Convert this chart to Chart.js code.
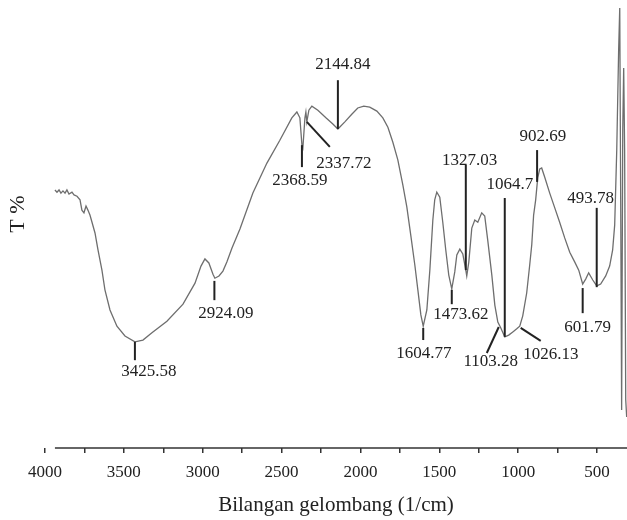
<!DOCTYPE html>
<html>
<head>
<meta charset="UTF-8">
<title>Spektrum FTIR</title>
<script src="https://cdn.jsdelivr.net/npm/chart.js"></script>
<style>
  body, html { margin: 0; padding: 0; background: #fff; }
  .wrap { width: 627px; height: 520px; position: relative; }
</style>
</head>
<body>
<div class="wrap"><canvas id="ftir"></canvas></div>
<script>
// wavenumber (1/cm) and transmittance (T %)
const bilangan = [3937, 3924, 3911, 3899, 3886, 3873, 3861, 3848, 3829, 3816, 3797, 3778, 3766, 3753, 3740, 3728,
  3715, 3702, 3683, 3664, 3639, 3620, 3588, 3544, 3493, 3430, 3379, 3322, 3227, 3125, 3049, 3011,
  2986, 2961, 2935, 2923, 2897, 2872, 2847, 2815, 2764, 2682, 2593, 2511, 2435, 2403, 2384, 2371,
  2365, 2352, 2346, 2340, 2327, 2308, 2270, 2219, 2175, 2143, 2099, 2055, 2017, 1979, 1941, 1896,
  1858, 1826, 1795, 1763, 1731, 1706, 1681, 1655, 1636, 1617, 1602, 1579, 1560, 1541, 1529, 1516,
  1497, 1478, 1459, 1440, 1421, 1402, 1389, 1370, 1351, 1332, 1326, 1313, 1294, 1275, 1256, 1231,
  1212, 1193, 1167, 1148, 1129, 1110, 1085, 1060, 1034, 1009, 990, 971, 946, 927, 914, 902,
  889, 876, 863, 851, 832, 800, 768, 737, 705, 673, 641, 616, 591, 572, 553, 527,
  502, 477, 445, 420, 401, 388, 375, 363, 356, 350, 344, 337, 331, 325, 318, 312];
const transmitansi = [57.6, 57.1, 57.6, 56.9, 57.4, 56.9, 57.6, 56.7, 57.1, 56.5, 56.2, 55.4, 53.1, 52.5, 54.0, 53.1,
  52.0, 50.4, 48.0, 44.2, 39.7, 35.3, 30.8, 27.2, 25.0, 23.7, 24.1, 25.7, 28.3, 32.1, 36.8, 40.6,
  42.2, 41.3, 38.8, 37.9, 38.4, 39.5, 41.5, 44.6, 48.9, 56.9, 63.6, 68.7, 73.7, 75.0, 73.7, 67.6,
  67.0, 73.7, 75.0, 72.8, 75.4, 76.3, 75.4, 73.7, 72.3, 71.2, 72.8, 74.5, 75.9, 76.3, 76.1, 75.2,
  73.7, 71.6, 68.3, 64.3, 58.7, 53.8, 47.5, 40.8, 35.3, 29.7, 27.2, 30.8, 39.7, 50.9, 55.4, 57.1,
  56.0, 50.4, 44.2, 38.6, 35.5, 39.3, 43.1, 44.4, 43.3, 39.7, 38.4, 41.5, 49.1, 50.9, 50.4, 52.5,
  51.8, 46.4, 38.6, 31.9, 28.1, 26.8, 24.8, 25.2, 25.9, 26.6, 27.2, 29.5, 34.6, 40.8, 45.3, 52.0,
  55.4, 60.3, 62.3, 62.5, 60.5, 56.9, 53.6, 50.4, 46.9, 43.7, 41.5, 39.7, 36.6, 37.7, 39.1, 37.5,
  36.2, 36.6, 38.4, 40.6, 44.2, 49.8, 66.5, 88.8, 98.2, 55.4, 8.5, 71.0, 84.8, 66.5, 10.7, 6.9];

// tick marks on the wavenumber axis, and the ones that carry a label
const xTickMarks = [4000, 3750, 3500, 3250, 3000, 2750, 2500, 2250, 2000, 1750, 1500, 1250, 1000, 750, 500];
const xTickLabels = [4000, 3500, 3000, 2500, 2000, 1500, 1000, 500];

// peak markers: leader line from (x1,y1) to (x2,y2), text centred on (tx,ty)
const puncak = [
  { text: '3425.58', x1: 3430, y1: 23.7, x2: 3430, y2: 19.6, tx: 3341, ty: 17.0 },
  { text: '2924.09', x1: 2926, y1: 37.3, x2: 2926, y2: 33.0, tx: 2853, ty: 30.1 },
  { text: '2368.59', x1: 2371, y1: 67.6, x2: 2371, y2: 62.7, tx: 2384, ty: 59.8 },
  { text: '2337.72', x1: 2340, y1: 72.8, x2: 2194, y2: 67.2, tx: 2105, ty: 63.6 },
  { text: '2144.84', x1: 2143, y1: 71.2, x2: 2143, y2: 82.1, tx: 2112, ty: 85.5 },
  { text: '1604.77', x1: 1602, y1: 26.8, x2: 1602, y2: 24.1, tx: 1598, ty: 21.0 },
  { text: '1473.62', x1: 1421, y1: 35.3, x2: 1421, y2: 32.1, tx: 1364, ty: 29.7 },
  { text: '1327.03', x1: 1332, y1: 39.7, x2: 1332, y2: 63.2, tx: 1307, ty: 64.1 },
  { text: '1064.7', x1: 1085, y1: 24.8, x2: 1085, y2: 55.8, tx: 1053, ty: 58.9 },
  { text: '1103.28', x1: 1123, y1: 27.0, x2: 1199, y2: 21.2, tx: 1174, ty: 19.4 },
  { text: '1026.13', x1: 984, y1: 26.8, x2: 857, y2: 23.9, tx: 793, ty: 20.8 },
  { text: '902.69', x1: 880, y1: 59.4, x2: 880, y2: 66.5, tx: 844, ty: 69.6 },
  { text: '601.79', x1: 591, y1: 35.7, x2: 591, y2: 30.1, tx: 559, ty: 27.0 },
  { text: '493.78', x1: 502, y1: 35.9, x2: 502, y2: 53.6, tx: 540, ty: 55.6 }
];

const serif = '"Liberation Serif", "DejaVu Serif", serif';

const peakPlugin = {
  id: 'peakPlugin',
  afterDatasetsDraw(chart) {
    const { ctx, scales: { x, y }, chartArea } = chart;
    ctx.save();
    // axis line starts where the spectrum starts
    ctx.strokeStyle = '#333';
    ctx.lineWidth = 1.5;
    ctx.beginPath();
    ctx.moveTo(x.getPixelForValue(bilangan[0]), chartArea.bottom);
    ctx.lineTo(chartArea.right, chartArea.bottom);
    ctx.stroke();

    ctx.strokeStyle = '#222';
    ctx.lineWidth = 2;
    ctx.fillStyle = '#222';
    ctx.font = '17px ' + serif;
    ctx.textAlign = 'center';
    ctx.textBaseline = 'middle';
    puncak.forEach(p => {
      ctx.beginPath();
      ctx.moveTo(x.getPixelForValue(p.x1), y.getPixelForValue(p.y1));
      ctx.lineTo(x.getPixelForValue(p.x2), y.getPixelForValue(p.y2));
      ctx.stroke();
      ctx.fillText(p.text, x.getPixelForValue(p.tx), y.getPixelForValue(p.ty));
    });

    // y axis title, sitting a little above the middle as in the original
    ctx.translate(18, chartArea.top + (chartArea.bottom - chartArea.top) * 0.478);
    ctx.rotate(-Math.PI / 2);
    ctx.font = '22px ' + serif;
    ctx.fillText('T %', 0, 0);
    ctx.restore();
  }
};

new Chart(document.getElementById('ftir'), {
  type: 'line',
  data: {
    datasets: [{
      data: bilangan.map((v, i) => ({ x: v, y: transmitansi[i] })),
      borderColor: '#6e6e6e',
      borderWidth: 1.3,
      pointRadius: 0,
      tension: 0
    }]
  },
  options: {
    responsive: true,
    maintainAspectRatio: false,
    animation: false,
    layout: { padding: 0 },
    plugins: { legend: { display: false }, tooltip: { enabled: false } },
    scales: {
      x: {
        type: 'linear',
        reverse: true,
        min: 310,
        max: 4000,
        afterBuildTicks: s => { s.ticks = xTickMarks.map(v => ({ value: v })); },
        afterFit: s => { s.height = 72; s.paddingLeft = 0; s.paddingRight = 0; },
        border: { display: false },
        grid: { drawOnChartArea: false, drawTicks: true, tickLength: 5, color: '#333', lineWidth: 1.5 },
        ticks: {
          autoSkip: false,
          maxRotation: 0,
          padding: 9,
          color: '#222',
          font: { family: serif, size: 17 },
          callback: v => (xTickLabels.includes(v) ? String(v) : '')
        },
        title: {
          display: true,
          text: 'Bilangan gelombang (1/cm)',
          color: '#222',
          font: { family: serif, size: 21 },
          padding: { top: 0, bottom: 2 }
        }
      },
      y: {
        min: 0,
        max: 100,
        afterFit: s => { s.width = 45; },
        border: { display: false },
        grid: { display: false },
        ticks: { display: false }
      }
    }
  },
  plugins: [peakPlugin]
});
</script>
</body>
</html>
